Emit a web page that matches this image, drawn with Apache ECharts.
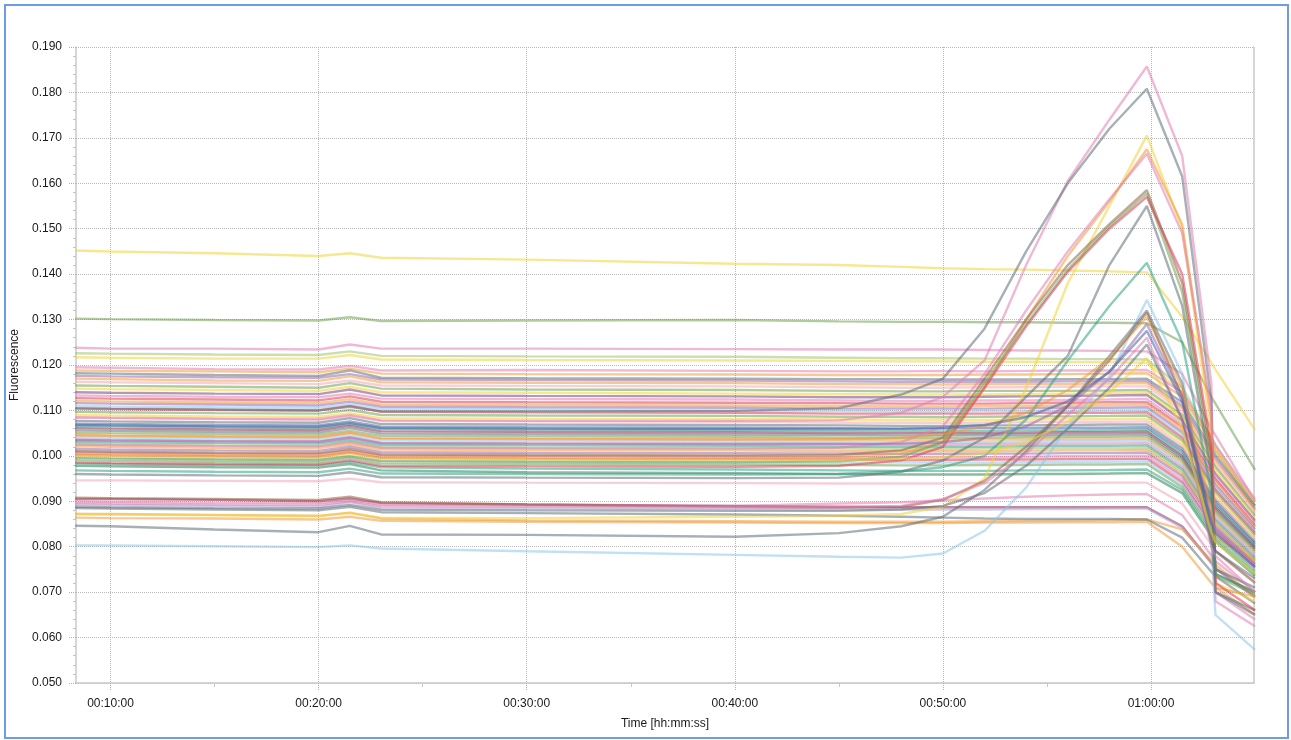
<!DOCTYPE html>
<html>
<head>
<meta charset="utf-8">
<title>Fluorescence</title>
<script src="https://cdn.jsdelivr.net/npm/echarts@6/dist/echarts.min.js"></script>
<style>
  html, body { margin: 0; padding: 0; background: #ffffff; }
  #frame { position: absolute; left: 4px; top: 4px; width: 1281px; height: 731px; border: 2px solid #6f9be3; }
  #chart { position: absolute; left: 0; top: 0; width: 1291px; height: 740px; }
</style>
</head>
<body>
<div id="frame"></div>
<div id="chart"></div>
<script>
// Read times, in minutes
const minutes = [8.3, 10, 15, 20, 21.5, 23, 30, 40, 45, 48, 50, 52, 54, 56, 58, 59.8, 61.5, 62.9, 63.1, 65];

// Axis ticks
const yTicks = { min: 0.05, max: 0.19, step: 0.01 };
const timeTicks = [10, 20, 30, 40, 50, 60];
const timeMinorTicks = [15, 25, 35, 45, 55];

// Wells that stay flat until the end step
const well01 = [0.1452,0.1450,0.1446,0.1440,0.1446,0.1436,0.1432,0.1423,0.1420,0.1416,0.1413,0.1411,0.1410,0.1408,0.1406,0.1404,0.1306,0.1205,0.1190,0.1057];
const well02 = [0.1302,0.1301,0.1299,0.1298,0.1305,0.1297,0.1298,0.1299,0.1296,0.1295,0.1295,0.1294,0.1294,0.1293,0.1293,0.1292,0.1250,0.1130,0.1115,0.0969];
const well03 = [0.1238,0.1236,0.1236,0.1234,0.1245,0.1236,0.1236,0.1235,0.1234,0.1234,0.1234,0.1233,0.1232,0.1232,0.1231,0.1230,0.1180,0.1060,0.1045,0.0900];
const well04 = [0.1226,0.1225,0.1223,0.1222,0.1230,0.1220,0.1219,0.1218,0.1216,0.1215,0.1215,0.1214,0.1214,0.1213,0.1213,0.1212,0.1150,0.1040,0.1025,0.0890];
const well05 = [0.1217,0.1216,0.1214,0.1214,0.1222,0.1212,0.1211,0.1210,0.1209,0.1208,0.1208,0.1207,0.1207,0.1206,0.1206,0.1205,0.1140,0.1030,0.1015,0.0880];
const well06 = [0.1195,0.1194,0.1191,0.1190,0.1198,0.1188,0.1189,0.1187,0.1186,0.1186,0.1187,0.1186,0.1187,0.1188,0.1188,0.1189,0.1140,0.1040,0.1022,0.0905];
const well07 = [0.1188,0.1187,0.1186,0.1184,0.1192,0.1181,0.1180,0.1179,0.1178,0.1178,0.1178,0.1179,0.1179,0.1180,0.1181,0.1182,0.1130,0.1030,0.1012,0.0898];
const well08 = [0.1182,0.1181,0.1178,0.1176,0.1188,0.1172,0.1171,0.1170,0.1169,0.1169,0.1168,0.1168,0.1168,0.1169,0.1169,0.1170,0.1118,0.1018,0.1002,0.0890];
const well09 = [0.1176,0.1175,0.1173,0.1172,0.1180,0.1168,0.1167,0.1166,0.1164,0.1163,0.1163,0.1163,0.1163,0.1164,0.1164,0.1165,0.1110,0.1010,0.0995,0.0884];
const well10 = [0.1170,0.1169,0.1166,0.1165,0.1175,0.1162,0.1161,0.1160,0.1158,0.1158,0.1157,0.1158,0.1158,0.1158,0.1159,0.1160,0.1105,0.1002,0.0988,0.0880];
const well11 = [0.1163,0.1162,0.1160,0.1158,0.1166,0.1155,0.1154,0.1153,0.1151,0.1150,0.1150,0.1151,0.1151,0.1152,0.1153,0.1153,0.1098,0.0995,0.0980,0.0874];
const well12 = [0.1155,0.1154,0.1152,0.1150,0.1160,0.1148,0.1146,0.1145,0.1143,0.1142,0.1142,0.1143,0.1143,0.1143,0.1144,0.1145,0.1090,0.0990,0.0975,0.0868];
const well13 = [0.1148,0.1147,0.1145,0.1143,0.1152,0.1140,0.1139,0.1137,0.1136,0.1135,0.1135,0.1135,0.1136,0.1137,0.1138,0.1139,0.1085,0.0982,0.0968,0.0862];
const well14 = [0.1140,0.1139,0.1137,0.1136,0.1146,0.1133,0.1132,0.1131,0.1129,0.1129,0.1129,0.1130,0.1131,0.1132,0.1133,0.1134,0.1078,0.0975,0.0960,0.0857];
const well15 = [0.1133,0.1132,0.1130,0.1129,0.1137,0.1126,0.1125,0.1124,0.1122,0.1121,0.1121,0.1122,0.1122,0.1123,0.1124,0.1125,0.1070,0.0968,0.0953,0.0852];
const well16 = [0.1127,0.1126,0.1124,0.1122,0.1131,0.1119,0.1118,0.1117,0.1116,0.1115,0.1115,0.1115,0.1116,0.1117,0.1118,0.1118,0.1064,0.0962,0.0948,0.0846];
const well17 = [0.1121,0.1120,0.1118,0.1116,0.1125,0.1113,0.1112,0.1111,0.1110,0.1109,0.1109,0.1110,0.1110,0.1111,0.1112,0.1113,0.1058,0.0956,0.0942,0.0842];
const well18 = [0.1116,0.1115,0.1113,0.1111,0.1119,0.1108,0.1107,0.1106,0.1104,0.1104,0.1104,0.1104,0.1105,0.1106,0.1106,0.1107,0.1052,0.0950,0.0936,0.0838];
const well19 = [0.1110,0.1109,0.1107,0.1106,0.1113,0.1103,0.1102,0.1100,0.1099,0.1098,0.1098,0.1099,0.1099,0.1100,0.1101,0.1102,0.1046,0.0944,0.0930,0.0834];
const well20 = [0.1104,0.1103,0.1101,0.1100,0.1110,0.1097,0.1096,0.1095,0.1093,0.1093,0.1093,0.1093,0.1094,0.1095,0.1095,0.1096,0.1040,0.0940,0.0925,0.0830];
const well21 = [0.1097,0.1096,0.1094,0.1093,0.1101,0.1090,0.1089,0.1088,0.1086,0.1086,0.1085,0.1086,0.1087,0.1087,0.1088,0.1089,0.1034,0.0934,0.0920,0.0825];
const well22 = [0.1090,0.1089,0.1087,0.1086,0.1094,0.1083,0.1082,0.1081,0.1080,0.1079,0.1079,0.1079,0.1080,0.1081,0.1081,0.1082,0.1028,0.0928,0.0914,0.0820];
const well23 = [0.1084,0.1083,0.1081,0.1079,0.1088,0.1077,0.1076,0.1075,0.1073,0.1073,0.1073,0.1073,0.1074,0.1075,0.1075,0.1076,0.1022,0.0922,0.0908,0.0816];
const well24 = [0.1077,0.1076,0.1074,0.1073,0.1083,0.1070,0.1069,0.1068,0.1067,0.1066,0.1066,0.1067,0.1067,0.1068,0.1069,0.1069,0.1016,0.0916,0.0902,0.0810];
const well25 = [0.1071,0.1070,0.1068,0.1067,0.1076,0.1064,0.1063,0.1062,0.1061,0.1060,0.1060,0.1061,0.1061,0.1062,0.1062,0.1063,0.1010,0.0910,0.0896,0.0806];
const well26 = [0.1066,0.1065,0.1063,0.1062,0.1070,0.1059,0.1058,0.1057,0.1055,0.1055,0.1054,0.1055,0.1056,0.1056,0.1057,0.1058,0.1004,0.0905,0.0891,0.0802];
const well27 = [0.1061,0.1060,0.1058,0.1057,0.1066,0.1054,0.1053,0.1052,0.1050,0.1050,0.1050,0.1050,0.1051,0.1052,0.1052,0.1053,0.0999,0.0900,0.0886,0.0798];
const well28 = [0.1056,0.1055,0.1053,0.1052,0.1061,0.1049,0.1048,0.1047,0.1046,0.1045,0.1045,0.1046,0.1046,0.1047,0.1047,0.1048,0.0994,0.0895,0.0881,0.0794];
const well29 = [0.1051,0.1050,0.1048,0.1047,0.1055,0.1044,0.1043,0.1042,0.1040,0.1040,0.1040,0.1040,0.1041,0.1042,0.1042,0.1043,0.0990,0.0890,0.0876,0.0790];
const well30 = [0.1046,0.1045,0.1043,0.1042,0.1051,0.1039,0.1038,0.1037,0.1036,0.1035,0.1035,0.1036,0.1036,0.1037,0.1037,0.1038,0.0985,0.0886,0.0872,0.0786];
const well31 = [0.1041,0.1040,0.1038,0.1037,0.1045,0.1034,0.1033,0.1032,0.1030,0.1030,0.1030,0.1030,0.1031,0.1032,0.1032,0.1033,0.0980,0.0882,0.0868,0.0782];
const well32 = [0.1036,0.1035,0.1033,0.1032,0.1041,0.1029,0.1028,0.1027,0.1026,0.1025,0.1025,0.1026,0.1026,0.1027,0.1027,0.1028,0.0975,0.0877,0.0863,0.0778];
const well33 = [0.1031,0.1030,0.1028,0.1027,0.1035,0.1024,0.1023,0.1022,0.1020,0.1020,0.1020,0.1020,0.1021,0.1022,0.1022,0.1023,0.0970,0.0872,0.0858,0.0774];
const well34 = [0.1026,0.1025,0.1023,0.1022,0.1031,0.1019,0.1018,0.1017,0.1016,0.1015,0.1015,0.1016,0.1016,0.1017,0.1017,0.1018,0.0965,0.0868,0.0854,0.0770];
const well35 = [0.1021,0.1020,0.1018,0.1017,0.1025,0.1014,0.1013,0.1012,0.1010,0.1010,0.1010,0.1010,0.1011,0.1012,0.1012,0.1013,0.0960,0.0864,0.0850,0.0767];
const well36 = [0.1015,0.1014,0.1012,0.1011,0.1020,0.1008,0.1007,0.1006,0.1005,0.1004,0.1004,0.1005,0.1005,0.1006,0.1006,0.1007,0.0955,0.0859,0.0845,0.0763];
const well37 = [0.1008,0.1007,0.1005,0.1004,0.1012,0.1001,0.1000,0.0999,0.0997,0.0997,0.0997,0.0997,0.0998,0.0999,0.0999,0.1000,0.0948,0.0853,0.0839,0.0758];
const well38 = [0.1002,0.1001,0.0999,0.0998,0.1007,0.0995,0.0994,0.0993,0.0992,0.0991,0.0991,0.0992,0.0992,0.0993,0.0993,0.0994,0.0942,0.0848,0.0834,0.0754];
const well39 = [0.0996,0.0995,0.0993,0.0992,0.1000,0.0989,0.0988,0.0987,0.0985,0.0985,0.0985,0.0985,0.0986,0.0987,0.0987,0.0988,0.0937,0.0843,0.0830,0.0750];
const well40 = [0.0990,0.0989,0.0987,0.0986,0.0995,0.0983,0.0982,0.0981,0.0980,0.0979,0.0979,0.0980,0.0980,0.0981,0.0981,0.0982,0.0931,0.0838,0.0825,0.0746];
const well41 = [0.0983,0.0982,0.0980,0.0979,0.0987,0.0975,0.0972,0.0970,0.0968,0.0967,0.0967,0.0967,0.0968,0.0968,0.0969,0.0970,0.0925,0.0830,0.0817,0.0740];
const well42 = [0.0978,0.0977,0.0975,0.0974,0.0982,0.0968,0.0964,0.0962,0.0960,0.0959,0.0959,0.0959,0.0960,0.0960,0.0961,0.0962,0.0918,0.0824,0.0811,0.0736];
const well43 = [0.0946,0.0946,0.0945,0.0944,0.0950,0.0942,0.0941,0.0940,0.0939,0.0939,0.0939,0.0940,0.0940,0.0940,0.0941,0.0941,0.0895,0.0805,0.0792,0.0722];
const well44 = [0.0905,0.0905,0.0903,0.0900,0.0906,0.0896,0.0893,0.0890,0.0888,0.0887,0.0887,0.0887,0.0887,0.0887,0.0887,0.0887,0.0845,0.0765,0.0752,0.0690];
const well45 = [0.0900,0.0899,0.0897,0.0896,0.0903,0.0892,0.0891,0.0890,0.0895,0.0898,0.0902,0.0906,0.0910,0.0913,0.0915,0.0916,0.0870,0.0780,0.0768,0.0700];
const well46 = [0.0893,0.0892,0.0890,0.0888,0.0898,0.0885,0.0884,0.0883,0.0882,0.0882,0.0882,0.0882,0.0883,0.0883,0.0884,0.0884,0.0842,0.0763,0.0751,0.0688];
const well47 = [0.0872,0.0872,0.0870,0.0868,0.0875,0.0862,0.0858,0.0856,0.0855,0.0855,0.0855,0.0856,0.0857,0.0858,0.0859,0.0860,0.0838,0.0770,0.0760,0.0690];
const well48 = [0.0864,0.0863,0.0862,0.0860,0.0866,0.0857,0.0855,0.0853,0.0852,0.0852,0.0852,0.0853,0.0853,0.0854,0.0854,0.0855,0.0800,0.0720,0.0710,0.0650];
const well49 = [0.0885,0.0884,0.0882,0.0880,0.0888,0.0876,0.0874,0.0871,0.0868,0.0866,0.0864,0.0862,0.0861,0.0861,0.0861,0.0860,0.0820,0.0745,0.0735,0.0675];

// Wells that rise to a peak near one hour
const well50 = [0.1085,0.1084,0.1082,0.1081,0.1090,0.1078,0.1077,0.1077,0.1078,0.1095,0.1130,0.1210,0.1420,0.1605,0.1740,0.1857,0.1660,0.1160,0.0680,0.0625];
const well51 = [0.1105,0.1104,0.1102,0.1100,0.1108,0.1098,0.1098,0.1099,0.1105,0.1135,0.1170,0.1280,0.1450,0.1600,0.1720,0.1808,0.1615,0.1120,0.0700,0.0660];
const well52 = [0.0872,0.0871,0.0869,0.0867,0.0874,0.0864,0.0863,0.0866,0.0868,0.0872,0.0888,0.0950,0.1150,0.1380,0.1550,0.1705,0.1500,0.1050,0.0720,0.0680];
const well53 = [0.1005,0.1004,0.1002,0.1001,0.1010,0.0998,0.0997,0.0996,0.0997,0.1005,0.1030,0.1150,0.1300,0.1440,0.1560,0.1675,0.1510,0.1080,0.0710,0.0690];
const well54 = [0.1025,0.1024,0.1022,0.1021,0.1030,0.1018,0.1017,0.1016,0.1018,0.1030,0.1065,0.1180,0.1320,0.1450,0.1565,0.1665,0.1490,0.1100,0.0700,0.0640];
const well55 = [0.1010,0.1009,0.1007,0.1006,0.1015,0.1003,0.1002,0.1001,0.1002,0.1012,0.1040,0.1170,0.1300,0.1420,0.1510,0.1585,0.1380,0.1000,0.0740,0.0700];
const well56 = [0.0995,0.0994,0.0992,0.0991,0.0999,0.0988,0.0987,0.0986,0.0988,0.0998,0.1030,0.1160,0.1290,0.1410,0.1505,0.1578,0.1360,0.0980,0.0735,0.0695];
const well57 = [0.0985,0.0984,0.0982,0.0981,0.0990,0.0978,0.0977,0.0976,0.0978,0.0990,0.1020,0.1150,0.1285,0.1405,0.1500,0.1570,0.1400,0.1020,0.0720,0.0660];
const well58 = [0.0960,0.0959,0.0957,0.0956,0.0964,0.0953,0.0952,0.0951,0.0952,0.0965,0.0990,0.1040,0.1130,0.1220,0.1420,0.1550,0.1330,0.0960,0.0750,0.0710];
const well59 = [0.0968,0.0967,0.0965,0.0964,0.0972,0.0961,0.0960,0.0959,0.0960,0.0966,0.0975,0.1000,0.1080,0.1210,0.1330,0.1425,0.1250,0.0920,0.0740,0.0700];
const well60 = [0.0803,0.0803,0.0801,0.0799,0.0803,0.0796,0.0790,0.0782,0.0778,0.0776,0.0785,0.0835,0.0930,0.1065,0.1175,0.1343,0.1180,0.0800,0.0650,0.0573];
const well61 = [0.0846,0.0845,0.0838,0.0832,0.0846,0.0827,0.0826,0.0822,0.0830,0.0845,0.0866,0.0925,0.1010,0.1110,0.1220,0.1320,0.1160,0.0830,0.0700,0.0650];
const well62 = [0.1045,0.1044,0.1042,0.1041,0.1050,0.1038,0.1037,0.1036,0.1036,0.1040,0.1048,0.1065,0.1095,0.1145,0.1215,0.1305,0.1150,0.0880,0.0820,0.0770];
const well63 = [0.0908,0.0907,0.0905,0.0903,0.0910,0.0898,0.0893,0.0888,0.0886,0.0888,0.0903,0.0945,0.1020,0.1110,0.1210,0.1315,0.1130,0.0820,0.0790,0.0720];
const well64 = [0.1035,0.1034,0.1032,0.1031,0.1040,0.1028,0.1027,0.1026,0.1026,0.1027,0.1030,0.1040,0.1065,0.1110,0.1185,0.1290,0.1130,0.0860,0.0840,0.0760];
const well65 = [0.1068,0.1067,0.1065,0.1064,0.1072,0.1061,0.1060,0.1059,0.1059,0.1060,0.1062,0.1068,0.1085,0.1120,0.1185,0.1275,0.1120,0.0850,0.0830,0.0755];
const well66 = [0.0896,0.0895,0.0893,0.0892,0.0900,0.0889,0.0888,0.0887,0.0887,0.0890,0.0905,0.0940,0.1005,0.1090,0.1170,0.1260,0.1080,0.0800,0.0780,0.0700];
const well67 = [0.0888,0.0887,0.0885,0.0884,0.0892,0.0881,0.0880,0.0879,0.0879,0.0882,0.0890,0.0918,0.0978,0.1060,0.1150,0.1245,0.1080,0.0810,0.0790,0.0730];
const well68 = [0.1000,0.0999,0.0997,0.0996,0.1004,0.0993,0.0992,0.0991,0.0991,0.0993,0.0997,0.1005,0.1030,0.1075,0.1140,0.1215,0.1060,0.0830,0.0810,0.0740];

// Line colours, one per well
const hue = {
  pink: '#e27fb4', grey: '#5f6f78', yellow: '#f0d43a', orange: '#ee9a3a', green: '#6fa052',
  teal: '#30a084', sky: '#8cc7ea', red: '#dc3a56', brown: '#946244', purple: '#946aaa',
  wine: '#93264e', blue: '#4563a8', rose: '#f0a8b8', lime: '#a0c270', lavender: '#aaa2d4',
  forest: '#2a8354', plum: '#74447f'
};
const traces = [
  [well01, 'yellow'], [well02, 'green'], [well03, 'pink'], [well04, 'lime'], [well05, 'yellow'],
  [well06, 'pink'], [well07, 'orange'], [well08, 'grey'], [well09, 'purple'], [well10, 'orange'],
  [well11, 'rose'], [well12, 'green'], [well13, 'yellow'], [well14, 'plum'], [well15, 'pink'],
  [well16, 'red'], [well17, 'orange'], [well18, 'purple'], [well19, 'sky'], [well20, 'red'],
  [well21, 'green'], [well22, 'yellow'], [well23, 'rose'], [well24, 'grey'], [well25, 'blue'],
  [well26, 'teal'], [well27, 'wine'], [well28, 'grey'], [well29, 'green'], [well30, 'orange'],
  [well31, 'sky'], [well32, 'pink'], [well33, 'teal'], [well34, 'lime'], [well35, 'orange'],
  [well36, 'purple'], [well37, 'pink'], [well38, 'red'], [well39, 'sky'], [well40, 'green'],
  [well41, 'teal'], [well42, 'forest'], [well43, 'rose'], [well44, 'wine'], [well45, 'pink'],
  [well46, 'lavender'], [well47, 'orange'], [well48, 'orange'], [well49, 'grey'],
  [well50, 'pink'], [well51, 'grey'], [well52, 'yellow'], [well53, 'orange'], [well54, 'pink'],
  [well55, 'brown'], [well56, 'green'], [well57, 'red'], [well58, 'grey'], [well59, 'teal'],
  [well60, 'sky'], [well61, 'grey'], [well62, 'orange'], [well63, 'brown'], [well64, 'purple'],
  [well65, 'blue'], [well66, 'pink'], [well67, 'grey'], [well68, 'yellow']
];

const pad = n => String(n).padStart(2, '0');
function hms(m) {
  const total = Math.round(m * 60);
  return pad(Math.floor(total / 3600)) + ':' + pad(Math.floor(total % 3600 / 60)) + ':' + pad(total % 60);
}

const font = 'Liberation Sans, Arial, sans-serif';
const chart = echarts.init(document.getElementById('chart'), null, { renderer: 'canvas' });

chart.setOption({
  animation: false,
  backgroundColor: 'transparent',
  grid: { left: 76, right: 37, top: 47, bottom: 57, show: false },
  xAxis: [{
    type: 'value',
    min: 8.34,
    max: 64.95,
    splitNumber: 6,
    name: 'Time [hh:mm:ss]',
    nameLocation: 'middle',
    nameGap: 35,
    nameTextStyle: { color: '#1a1a1a', fontSize: 12, fontFamily: font },
    axisLine: { show: true, lineStyle: { color: '#c8c8c8', width: 1.5 } },
    axisTick: { show: true, customValues: timeTicks, length: 7, lineStyle: { color: '#b0b0b0', type: 'dotted' } },
    axisLabel: { customValues: timeTicks, formatter: v => hms(v), color: '#1a1a1a', fontSize: 12, fontFamily: font, margin: 15 },
    splitLine: { show: true, lineStyle: { color: '#b8b8b8', type: 'dotted', width: 1 } }
  }, {
    type: 'value',
    min: 8.34,
    max: 64.95,
    position: 'bottom',
    axisLine: { show: false },
    axisTick: { show: true, customValues: timeMinorTicks, length: 4, lineStyle: { color: '#c8c8c8' } },
    axisLabel: { show: false },
    splitLine: { show: false }
  }],
  yAxis: [{
    type: 'value',
    min: yTicks.min,
    max: yTicks.max,
    interval: yTicks.step,
    name: 'Fluorescence',
    nameLocation: 'middle',
    nameRotate: 90,
    nameGap: 47,
    nameTextStyle: { color: '#1a1a1a', fontSize: 12, fontFamily: font },
    axisLine: { show: true, lineStyle: { color: '#c8c8c8', width: 1.5 } },
    axisTick: { show: true, length: 7, lineStyle: { color: '#b0b0b0', type: 'dotted' } },
    minorTick: { show: true, splitNumber: 5, length: 3, lineStyle: { color: '#c4c4c4' } },
    axisLabel: { formatter: v => v.toFixed(3), color: '#1a1a1a', fontSize: 12, fontFamily: font, margin: 14 },
    splitLine: { show: true, lineStyle: { color: '#b8b8b8', type: 'dotted', width: 1 } }
  }, {
    type: 'value',
    min: yTicks.min,
    max: yTicks.max,
    position: 'right',
    axisLine: { show: true, lineStyle: { color: '#c8c8c8', width: 1.5 } },
    axisTick: { show: false },
    axisLabel: { show: false },
    splitLine: { show: false }
  }],
  series: traces.map(([vals, c]) => ({
    type: 'line',
    xAxisIndex: 0,
    yAxisIndex: 0,
    symbol: 'none',
    silent: true,
    lineStyle: { color: hue[c], width: 2.4, opacity: 0.55 },
    data: minutes.map((t, i) => [t, vals[i]])
  }))
});
</script>
</body>
</html>
